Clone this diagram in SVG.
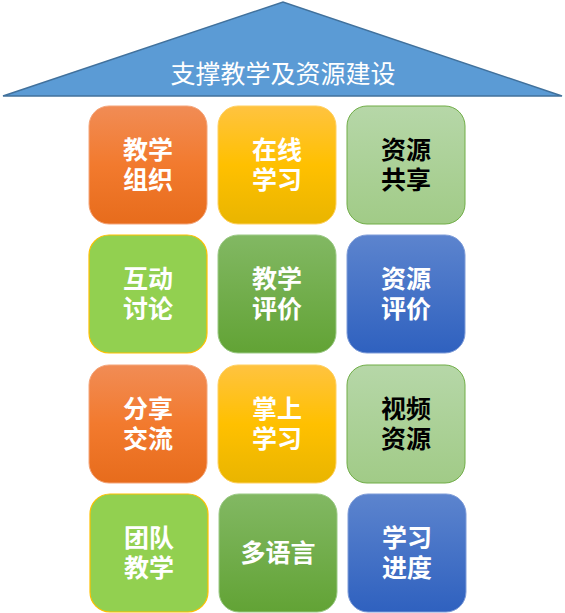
<svg xmlns="http://www.w3.org/2000/svg" width="565" height="613" viewBox="0 0 565 613">
<defs>
<linearGradient id="gOrange" x1="0" y1="0" x2="0" y2="1"><stop offset="0" stop-color="#F18C55"/><stop offset="0.5" stop-color="#F27A2E"/><stop offset="1" stop-color="#E76C1C"/></linearGradient>
<linearGradient id="gYellow" x1="0" y1="0" x2="0" y2="1"><stop offset="0" stop-color="#FFC340"/><stop offset="0.5" stop-color="#FFC000"/><stop offset="1" stop-color="#E9B500"/></linearGradient>
<linearGradient id="gLight" x1="0" y1="0" x2="0" y2="1"><stop offset="0" stop-color="#B6D7A8"/><stop offset="1" stop-color="#A1CB87"/></linearGradient>
<linearGradient id="gMid" x1="0" y1="0" x2="0" y2="1"><stop offset="0" stop-color="#82B863"/><stop offset="1" stop-color="#62A335"/></linearGradient>
<linearGradient id="gBlue" x1="0" y1="0" x2="0" y2="1"><stop offset="0" stop-color="#5C84CE"/><stop offset="1" stop-color="#2F61BF"/></linearGradient>
</defs>
<style>
.t{font-family:"Noto Sans CJK SC","Noto Sans CJK JP",sans-serif;font-weight:bold;font-size:25px;text-anchor:middle;fill:#FFFFFF}
.k{fill:#000000}
.roof{font-family:"Noto Sans CJK SC","Noto Sans CJK JP",serif;font-size:25px;text-anchor:middle;fill:#FFFFFF}
.orange{fill:url(#gOrange);stroke:#F4A57A;stroke-width:1}
.yellow{fill:url(#gYellow);stroke:#FFD060;stroke-width:1}
.light{fill:url(#gLight);stroke:#70AD47;stroke-width:1}
.bright{fill:#92D050;stroke:#FFC000;stroke-width:1.2}
.mid{fill:url(#gMid);stroke:#9BC985;stroke-width:1}
.blue{fill:url(#gBlue);stroke:#7E9CD8;stroke-width:1}
</style>
<g id="roof">
<polygon points="3,96 283,2 562,96" fill="#5B9BD5" stroke="#41719C" stroke-width="1.5"/>
<text class="roof" x="283" y="83">支撑教学及资源建设</text>
</g>
<g id="connectors"></g>
<g id="n1"><rect class="orange" x="89" y="106" width="118" height="118" rx="20"/><text class="t" x="148" y="159">教学<tspan x="148" dy="30">组织</tspan></text></g>
<g id="n2"><rect class="yellow" x="218" y="106" width="118" height="118" rx="20"/><text class="t" x="277" y="159">在线<tspan x="277" dy="30">学习</tspan></text></g>
<g id="n3"><rect class="light" x="347" y="106" width="118" height="118" rx="20"/><text class="t k" x="406" y="159">资源<tspan x="406" dy="30">共享</tspan></text></g>
<g id="n4"><rect class="bright" x="89" y="235" width="118" height="118" rx="20"/><text class="t" x="148" y="288">互动<tspan x="148" dy="30">讨论</tspan></text></g>
<g id="n5"><rect class="mid" x="218" y="235" width="118" height="118" rx="20"/><text class="t" x="277" y="288">教学<tspan x="277" dy="30">评价</tspan></text></g>
<g id="n6"><rect class="blue" x="347" y="235" width="118" height="118" rx="20"/><text class="t" x="406" y="288">资源<tspan x="406" dy="30">评价</tspan></text></g>
<g id="n7"><rect class="orange" x="89" y="365" width="118" height="118" rx="20"/><text class="t" x="148" y="418">分享<tspan x="148" dy="30">交流</tspan></text></g>
<g id="n8"><rect class="yellow" x="218" y="365" width="118" height="118" rx="20"/><text class="t" x="277" y="418">掌上<tspan x="277" dy="30">学习</tspan></text></g>
<g id="n9"><rect class="light" x="347" y="365" width="118" height="118" rx="20"/><text class="t k" x="406" y="418">视频<tspan x="406" dy="30">资源</tspan></text></g>
<g id="n10"><rect class="bright" x="90" y="494" width="118" height="118" rx="20"/><text class="t" x="149" y="547">团队<tspan x="149" dy="30">教学</tspan></text></g>
<g id="n11"><rect class="mid" x="219" y="494" width="118" height="118" rx="20"/><text class="t" x="278" y="562">多语言</text></g>
<g id="n12"><rect class="blue" x="348" y="494" width="118" height="118" rx="20"/><text class="t" x="407" y="547">学习<tspan x="407" dy="30">进度</tspan></text></g>
</svg>
